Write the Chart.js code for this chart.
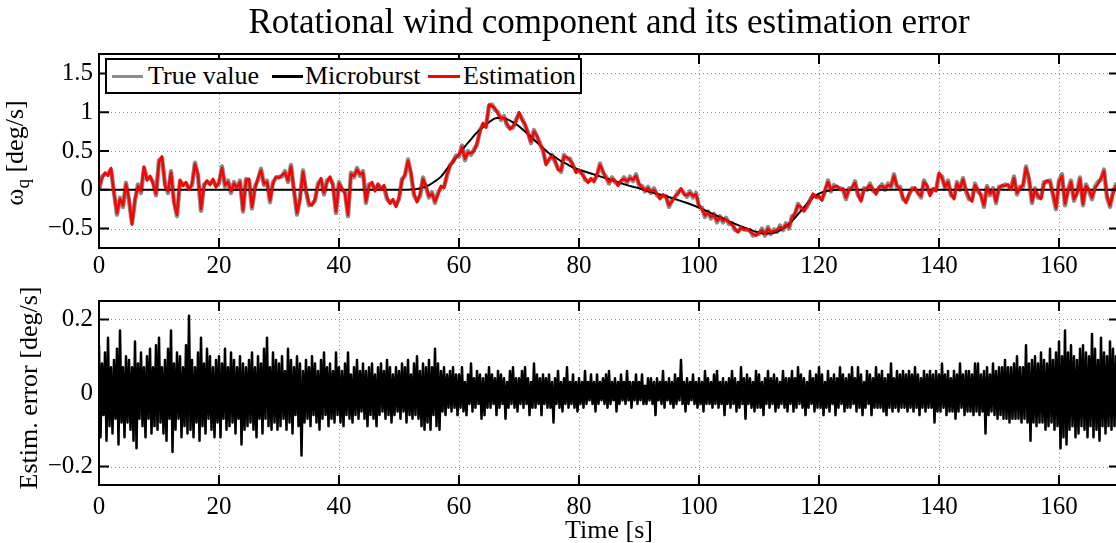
<!DOCTYPE html>
<html>
<head>
<meta charset="utf-8">
<script src="https://cdn.jsdelivr.net/npm/chart.js@4.4.1/dist/chart.umd.min.js"></script>
<style>
  html, body { margin: 0; padding: 0; background: #fff; }
  body { width: 1116px; height: 543px; overflow: hidden; position: relative;
         font-family: 'Liberation Serif', 'Times New Roman', serif; color: #000; }
  .panel { position: absolute; left: 0; }
  .ytitle { position: absolute; font-size: 26px; line-height: 1; white-space: nowrap;
            transform: translate(-50%, -50%) rotate(-90deg); }
  .ytitle .sub { font-size: 19px; position: relative; top: 6px; }
  .legend { position: absolute; left: 105px; top: 58px; width: 473px; height: 32px;
            border: 2px solid #000; background: #fff; font-size: 26px; line-height: 32px; }
  .legend .swatch { position: absolute; top: 15px; height: 2.5px; }
  .legend .lbl { position: absolute; top: 0; white-space: nowrap; }
</style>
</head>
<body>
<canvas id="topChart" class="panel" style="top:0" width="1218" height="280"></canvas>
<canvas id="errChart" class="panel" style="top:280px" width="1218" height="263"></canvas>

<div class="ytitle" style="left:15px; top:153px;">ω<span class="sub">q</span> [deg/s]</div>
<div class="ytitle" style="left:29px; top:388px;">Estim. error [deg/s]</div>

<div class="legend">
  <div class="swatch" style="left:5px; width:31px; background:#8c8c8c;"></div>
  <div class="lbl" style="left:41px;">True value</div>
  <div class="swatch" style="left:165px; width:31px; background:#000;"></div>
  <div class="lbl" style="left:198px;">Microburst</div>
  <div class="swatch" style="left:321px; width:32px; background:#ff0000;"></div>
  <div class="lbl" style="left:356px;">Estimation</div>
</div>

<script>
// ---- axis ticks ----
const xTickValues = [0, 20, 40, 60, 80, 100, 120, 140, 160];
const xTickLabels = ['0', '20', '40', '60', '80', '100', '120', '140', '160'];
const windTickValues = [-0.5, 0, 0.5, 1, 1.5];
const windTickLabels = ['\u22120.5', '0', '0.5', '1', '1.5'];
const errTickValues = [-0.2, 0, 0.2];
const errTickLabels = ['\u22120.2', '0', '0.2'];

// ---- rotational wind component [deg/s], sampled every 0.5 s from 0 to 170 s ----
const windStep = 0.5;
const estimation = [
  0.02,0.15,0.22,0.18,0.28,-0.05,-0.3,-0.12,-0.2,0.07,
  -0.12,-0.45,-0.12,0.05,-0.02,0.3,0.12,0.18,0.08,-0.05,
  0.36,0.43,0.05,-0.02,0.22,-0.17,-0.32,0.13,0.05,0.1,
  0.0,0.08,0.33,0.2,-0.25,0.05,0.12,0.06,0.14,0.03,
  0.1,0.28,0.06,0.1,-0.02,0.08,0.03,0.1,-0.26,0.12,
  0.14,-0.22,0.02,0.15,0.25,0.08,0.1,-0.14,0.08,0.17,
  0.15,0.19,0.22,0.12,0.3,0.0,-0.3,-0.12,0.23,0.0,
  -0.18,-0.2,-0.12,0.06,0.15,-0.04,0.1,0.17,0.05,-0.28,
  0.08,0.02,-0.05,-0.32,0.2,0.18,0.26,0.2,0.22,-0.15,
  0.05,0.1,-0.02,0.08,0.0,0.06,-0.1,-0.18,-0.12,-0.22,
  -0.1,0.12,0.2,0.37,0.22,-0.05,-0.16,-0.06,0.14,0.05,
  -0.08,-0.05,-0.15,-0.06,0.05,0.02,0.2,0.3,0.38,0.42,
  0.45,0.55,0.4,0.48,0.47,0.5,0.6,0.75,0.86,0.8,
  1.1,1.08,1.05,0.98,0.92,0.93,0.85,0.78,0.82,0.88,
  1.0,0.9,0.85,0.72,0.62,0.75,0.7,0.58,0.52,0.32,
  0.4,0.43,0.38,0.26,0.25,0.43,0.42,0.38,0.33,0.22,
  0.26,0.2,0.15,0.09,0.15,0.1,0.2,0.32,0.24,0.15,
  0.1,0.14,0.12,0.05,0.12,0.14,0.11,0.15,0.13,0.18,
  0.08,0.03,0.0,0.02,-0.02,0.0,-0.05,-0.12,-0.06,-0.1,
  -0.2,-0.15,-0.08,-0.05,0.02,-0.06,-0.07,-0.04,-0.08,-0.06,
  -0.2,-0.25,-0.33,-0.3,-0.35,-0.33,-0.4,-0.36,-0.4,-0.38,
  -0.42,-0.45,-0.5,-0.55,-0.48,-0.52,-0.5,-0.54,-0.57,-0.59,
  -0.55,-0.52,-0.57,-0.5,-0.55,-0.53,-0.52,-0.48,-0.5,-0.45,
  -0.48,-0.36,-0.3,-0.2,-0.22,-0.28,-0.2,-0.15,-0.05,-0.1,
  -0.08,-0.14,0.0,0.1,0.0,0.04,0.05,0.0,0.02,-0.1,
  0.0,0.03,0.09,-0.05,-0.15,0.0,0.02,0.06,0.01,-0.06,
  0.04,0.05,0.02,0.06,0.05,0.18,0.05,0.02,-0.1,-0.17,
  -0.05,0.0,0.03,-0.05,-0.08,0.1,0.06,-0.08,0.02,-0.02,
  0.22,0.15,0.04,0.1,-0.05,-0.12,0.08,0.02,0.13,0.0,
  -0.1,-0.15,0.06,0.0,-0.08,-0.2,0.03,-0.05,0.0,-0.15,
  0.02,0.06,0.05,0.07,0.0,0.15,-0.04,0.02,0.06,0.28,
  0.15,-0.15,0.0,-0.08,-0.12,0.08,0.12,0.1,-0.05,-0.23,
  0.1,0.18,-0.18,-0.02,0.1,-0.12,-0.05,0.14,-0.18,0.05,
  0.0,-0.1,0.02,0.08,0.15,0.24,-0.08,-0.2,-0.05,0.05,
  0.02
];
const trueValue = [
  0.0,0.17,0.2,0.21,0.26,-0.03,-0.32,-0.1,-0.22,0.09,
  -0.14,-0.43,-0.14,0.07,-0.04,0.28,0.14,0.16,0.1,-0.07,
  0.38,0.41,0.07,-0.04,0.24,-0.15,-0.34,0.11,0.07,0.08,
  0.02,0.06,0.35,0.18,-0.27,0.07,0.1,0.08,0.12,0.05,
  0.08,0.3,0.04,0.12,-0.04,0.1,0.01,0.12,-0.28,0.14,
  0.12,-0.24,0.04,0.13,0.27,0.06,0.12,-0.16,0.1,0.15,
  0.17,0.17,0.24,0.1,0.32,-0.02,-0.32,-0.1,0.25,-0.02,
  -0.2,-0.18,-0.14,0.08,0.13,-0.06,0.12,0.15,0.07,-0.3,
  0.1,0.0,-0.03,-0.34,0.22,0.16,0.28,0.18,0.24,-0.17,
  0.07,0.08,0.0,0.06,0.02,0.04,-0.12,-0.16,-0.14,-0.2,
  -0.12,0.14,0.18,0.39,0.2,-0.07,-0.14,-0.08,0.16,0.03,
  -0.1,-0.03,-0.17,-0.04,0.03,0.04,0.18,0.32,0.36,0.44,
  0.43,0.57,0.38,0.5,0.45,0.52,0.58,0.77,0.84,0.82,
  1.08,1.1,1.03,1.0,0.9,0.95,0.83,0.8,0.8,0.9,
  0.98,0.92,0.83,0.74,0.6,0.77,0.68,0.6,0.5,0.34,
  0.38,0.45,0.36,0.28,0.23,0.45,0.4,0.4,0.31,0.24,
  0.24,0.22,0.13,0.11,0.13,0.12,0.18,0.34,0.22,0.17,
  0.08,0.16,0.1,0.07,0.1,0.16,0.09,0.17,0.11,0.2,
  0.06,0.05,-0.02,0.04,-0.04,0.02,-0.07,-0.1,-0.08,-0.08,
  -0.22,-0.13,-0.1,-0.03,0.0,-0.04,-0.09,-0.02,-0.1,-0.04,
  -0.22,-0.23,-0.35,-0.28,-0.37,-0.31,-0.42,-0.34,-0.42,-0.36,
  -0.44,-0.43,-0.52,-0.53,-0.5,-0.5,-0.52,-0.52,-0.59,-0.57,
  -0.57,-0.5,-0.59,-0.48,-0.57,-0.51,-0.54,-0.46,-0.52,-0.43,
  -0.5,-0.34,-0.32,-0.18,-0.24,-0.26,-0.22,-0.13,-0.07,-0.08,
  -0.1,-0.12,-0.02,0.12,-0.02,0.06,0.03,0.02,0.0,-0.12,
  0.02,0.01,0.11,-0.07,-0.13,0.02,0.0,0.08,-0.01,-0.04,
  0.02,0.07,0.0,0.08,0.03,0.2,0.03,0.04,-0.12,-0.15,
  -0.07,0.02,0.01,-0.03,-0.1,0.12,0.04,-0.06,0.0,0.0,
  0.2,0.17,0.02,0.12,-0.07,-0.1,0.1,0.0,0.15,-0.02,
  -0.12,-0.13,0.08,-0.02,-0.06,-0.22,0.05,-0.07,0.02,-0.17,
  0.04,0.04,0.07,0.05,0.02,0.17,-0.06,0.04,0.04,0.3,
  0.13,-0.17,0.02,-0.1,-0.1,0.1,0.1,0.12,-0.07,-0.25,
  0.12,0.2,-0.2,0.0,0.12,-0.14,-0.03,0.16,-0.2,0.07,
  -0.02,-0.12,0.04,0.1,0.13,0.26,-0.1,-0.22,-0.03,0.07,
  0.04
];

// ---- microburst component (smooth), time [s] and value [deg/s] ----
const burstTime = [
  0,50,52,53,54,55,56,57,58,59,
  60,61,62,63,64,65,66,67,68,69,
  70,71,72,73,74,75,76,77,78,79,
  80,82,84,86,88,90,92,94,96,98,
  100,102,104,106,108,110,111,112,113,114,
  115,116,117,118,119,120,121,122,124,170
];
const burstValue = [
  0,0,0.005,0.01,0.03,0.06,0.11,0.17,0.27,0.36,
  0.46,0.56,0.65,0.74,0.81,0.87,0.92,0.93,0.91,0.87,
  0.82,0.75,0.68,0.61,0.54,0.47,0.42,0.37,0.33,0.29,
  0.26,0.21,0.16,0.11,0.06,0.02,-0.03,-0.07,-0.12,-0.17,
  -0.23,-0.3,-0.37,-0.44,-0.5,-0.55,-0.565,-0.56,-0.54,-0.5,
  -0.44,-0.36,-0.27,-0.18,-0.1,-0.05,-0.02,-0.005,0,0
];

// ---- estimation error [deg/s], sampled every 0.25 s from 0 to 170 s ----
const errorStep = 0.25;
const estimError = [
  0.13,-0.12,0.08,-0.06,0.11,-0.13,0.15,-0.09,0.07,-0.11,0.09,-0.07,0.12,-0.14,0.17,-0.08,0.07,-0.12,0.1,-0.08,
  0.09,-0.1,0.07,-0.13,0.14,-0.15,0.08,-0.07,0.11,-0.09,0.07,-0.12,0.1,-0.07,0.12,-0.11,0.07,-0.09,0.13,-0.1,
  0.15,-0.08,0.07,-0.11,0.09,-0.13,0.12,-0.07,0.17,-0.16,0.08,-0.1,0.11,-0.07,0.1,-0.12,0.07,-0.09,0.13,-0.11,
  0.21,-0.1,0.09,-0.12,0.07,-0.08,0.11,-0.13,0.15,-0.09,0.08,-0.11,0.12,-0.07,0.1,-0.1,0.07,-0.12,0.09,-0.08,
  0.1,-0.12,0.08,-0.07,0.12,-0.1,0.07,-0.09,0.11,-0.08,0.09,-0.11,0.07,-0.07,0.1,-0.14,0.08,-0.1,0.07,-0.09,
  0.09,-0.08,0.11,-0.1,0.07,-0.12,0.1,-0.07,0.08,-0.11,0.12,-0.07,0.15,-0.09,0.07,-0.1,0.11,-0.08,0.09,-0.1,
  0.08,-0.09,0.1,-0.07,0.06,-0.1,0.12,-0.08,0.09,-0.11,0.07,-0.06,0.1,-0.09,0.08,-0.17,0.06,-0.08,0.09,-0.07,
  0.07,-0.09,0.1,-0.06,0.08,-0.08,0.06,-0.1,0.09,-0.07,0.11,-0.06,0.07,-0.09,0.08,-0.07,0.06,-0.08,0.11,-0.06,
  0.07,-0.08,0.06,-0.09,0.08,-0.06,0.11,-0.07,0.05,-0.08,0.07,-0.06,0.09,-0.07,0.06,-0.05,0.08,-0.07,0.06,-0.09,
  0.07,-0.06,0.08,-0.07,0.05,-0.09,0.07,-0.06,0.08,-0.05,0.06,-0.07,0.09,-0.06,0.07,-0.08,0.05,-0.06,0.07,-0.05,
  0.06,-0.07,0.08,-0.05,0.07,-0.08,0.09,-0.06,0.05,-0.07,0.08,-0.06,0.1,-0.07,0.06,-0.09,0.08,-0.1,0.07,-0.08,
  0.09,-0.1,0.07,-0.06,0.12,-0.09,0.08,-0.1,0.06,-0.05,0.07,-0.06,0.05,-0.04,0.06,-0.05,0.07,-0.04,0.05,-0.06,
  0.05,-0.04,0.07,-0.05,0.03,-0.06,0.05,-0.03,0.08,-0.05,0.04,-0.04,0.06,-0.03,0.05,-0.07,0.04,-0.06,0.05,-0.04,
  0.07,-0.04,0.05,-0.03,0.04,-0.06,0.06,-0.04,0.05,-0.03,0.04,-0.07,0.03,-0.04,0.06,-0.03,0.07,-0.04,0.04,-0.05,
  0.04,-0.03,0.06,-0.04,0.07,-0.03,0.04,-0.06,0.03,-0.04,0.08,-0.04,0.05,-0.03,0.04,-0.06,0.05,-0.03,0.04,-0.04,
  0.05,-0.04,0.03,-0.08,0.04,-0.03,0.06,-0.04,0.03,-0.05,0.04,-0.03,0.07,-0.04,0.03,-0.03,0.05,-0.04,0.03,-0.05,
  0.04,-0.03,0.03,-0.04,0.06,-0.03,0.03,-0.02,0.05,-0.03,0.03,-0.05,0.05,-0.03,0.03,-0.02,0.04,-0.03,0.05,-0.04,
  0.06,-0.03,0.03,-0.02,0.04,-0.05,0.03,-0.03,0.05,-0.02,0.03,-0.03,0.06,-0.02,0.03,-0.04,0.03,-0.02,0.05,-0.03,
  0.03,-0.02,0.05,-0.03,0.02,-0.03,0.04,-0.02,0.04,-0.03,0.03,-0.06,0.04,-0.02,0.03,-0.03,0.06,-0.04,0.03,-0.02,
  0.04,-0.03,0.03,-0.04,0.05,-0.03,0.04,-0.02,0.09,-0.03,0.03,-0.05,0.04,-0.03,0.03,-0.02,0.05,-0.03,0.03,-0.04,
  0.04,-0.03,0.03,-0.05,0.06,-0.03,0.04,-0.03,0.03,-0.04,0.05,-0.03,0.06,-0.04,0.03,-0.03,0.04,-0.06,0.03,-0.03,
  0.04,-0.04,0.06,-0.03,0.04,-0.05,0.03,-0.04,0.07,-0.03,0.04,-0.07,0.05,-0.03,0.04,-0.04,0.03,-0.05,0.06,-0.04,
  0.05,-0.04,0.03,-0.06,0.04,-0.03,0.06,-0.04,0.04,-0.03,0.05,-0.05,0.04,-0.04,0.03,-0.03,0.06,-0.04,0.04,-0.05,
  0.04,-0.03,0.06,-0.05,0.04,-0.04,0.07,-0.03,0.05,-0.04,0.04,-0.06,0.03,-0.04,0.06,-0.03,0.04,-0.05,0.05,-0.04,
  0.07,-0.04,0.05,-0.06,0.03,-0.04,0.06,-0.05,0.04,-0.03,0.05,-0.06,0.04,-0.04,0.07,-0.03,0.05,-0.05,0.04,-0.04,
  0.05,-0.04,0.07,-0.03,0.04,-0.05,0.07,-0.04,0.05,-0.06,0.03,-0.04,0.06,-0.03,0.05,-0.06,0.04,-0.04,0.07,-0.04,
  0.05,-0.04,0.06,-0.05,0.04,-0.06,0.05,-0.04,0.08,-0.05,0.04,-0.04,0.06,-0.05,0.05,-0.04,0.06,-0.04,0.05,-0.05,
  0.06,-0.04,0.05,-0.05,0.07,-0.04,0.05,-0.06,0.04,-0.04,0.06,-0.05,0.05,-0.04,0.06,-0.04,0.05,-0.08,0.06,-0.05,
  0.05,-0.05,0.08,-0.04,0.05,-0.06,0.06,-0.05,0.04,-0.05,0.06,-0.07,0.05,-0.05,0.08,-0.04,0.05,-0.06,0.06,-0.05,
  0.06,-0.05,0.05,-0.06,0.08,-0.05,0.08,-0.06,0.05,-0.05,0.06,-0.11,0.07,-0.06,0.05,-0.05,0.08,-0.06,0.06,-0.07,
  0.07,-0.06,0.07,-0.07,0.09,-0.07,0.07,-0.08,0.07,-0.07,0.08,-0.07,0.1,-0.07,0.07,-0.08,0.07,-0.07,0.13,-0.08,
  0.08,-0.13,0.09,-0.08,0.1,-0.09,0.08,-0.08,0.11,-0.08,0.09,-0.1,0.08,-0.09,0.12,-0.08,0.09,-0.1,0.11,-0.09,
  0.14,-0.15,0.1,-0.12,0.17,-0.14,0.11,-0.1,0.13,-0.09,0.1,-0.12,0.09,-0.11,0.12,-0.09,0.13,-0.1,0.11,-0.12,
  0.1,-0.09,0.16,-0.12,0.12,-0.1,0.09,-0.13,0.15,-0.09,0.11,-0.11,0.1,-0.09,0.14,-0.1,0.12,-0.09,0.1,-0.11,
  0.08
];

// ---- helpers ----
const SERIF = 'Liberation Serif';
Chart.defaults.font.family = SERIF;
Chart.defaults.color = '#000';

const sampled = (vals, step) => vals.map((v, i) => ({ x: i * step, y: v }));
const paired = (xs, ys) => xs.map((t, i) => ({ x: t, y: ys[i] }));
const fixedTicks = (values) => (scale) => { scale.ticks = values.map(v => ({ value: v })); };
const labelFrom = (values, labels) => (v) => {
  const i = values.findIndex(t => Math.abs(t - v) < 1e-9);
  return i >= 0 ? labels[i] : '';
};

// dotted grid, boxed frame and inward tick marks on all four sides
const boxFrame = {
  id: 'boxFrame',
  beforeDatasetsDraw(chart) {
    const { ctx, chartArea: a } = chart;
    const x = chart.scales.x, y = chart.scales.y;
    ctx.save();
    ctx.strokeStyle = '#8a8a8a';
    ctx.lineWidth = 1;
    ctx.setLineDash([1, 3]);
    ctx.beginPath();
    x.ticks.forEach(t => {
      const px = Math.round(x.getPixelForValue(t.value)) + 0.5;
      ctx.moveTo(px, a.top); ctx.lineTo(px, a.bottom);
    });
    y.ticks.forEach(t => {
      const py = Math.round(y.getPixelForValue(t.value)) + 0.5;
      ctx.moveTo(a.left, py); ctx.lineTo(a.right, py);
    });
    ctx.stroke();
    ctx.restore();
  },
  afterDatasetsDraw(chart) {
    const { ctx, chartArea: a } = chart;
    const x = chart.scales.x, y = chart.scales.y;
    const len = 10;
    ctx.save();
    ctx.strokeStyle = '#000';
    ctx.lineWidth = 2;
    ctx.setLineDash([]);
    ctx.beginPath();
    x.ticks.forEach(t => {
      const px = x.getPixelForValue(t.value);
      ctx.moveTo(px, a.bottom); ctx.lineTo(px, a.bottom - len);
      ctx.moveTo(px, a.top); ctx.lineTo(px, a.top + len);
    });
    y.ticks.forEach(t => {
      const py = y.getPixelForValue(t.value);
      ctx.moveTo(a.left, py); ctx.lineTo(a.left + len, py);
      ctx.moveTo(a.right, py); ctx.lineTo(a.right - len, py);
    });
    ctx.stroke();
    ctx.strokeRect(a.left, a.top, a.right - a.left, a.bottom - a.top);
    ctx.restore();
  }
};

const tickFont = () => ({ family: SERIF, size: 25, style: 'normal', weight: 'normal' });
const baseOptions = () => ({
  responsive: false,
  animation: false,
  events: [],
  font: { family: SERIF },
  elements: { point: { radius: 0 }, line: { tension: 0, borderJoinStyle: 'round' } },
  plugins: { legend: { display: false }, tooltip: { enabled: false } }
});

const xAxis = (height, padding, extra) => Object.assign({
  type: 'linear', min: 0, max: 170,
  afterBuildTicks: fixedTicks(xTickValues),
  afterFit: (s) => { s.height = height; },
  grid: { display: false, drawTicks: false },
  border: { display: false },
  ticks: { font: tickFont(), padding: padding, maxRotation: 0, autoSkip: false,
           callback: labelFrom(xTickValues, xTickLabels) }
}, extra || {});

const yAxis = (min, max, values, labels) => ({
  type: 'linear', min, max,
  afterBuildTicks: fixedTicks(values),
  afterFit: (s) => { s.width = 99; },
  grid: { display: false, drawTicks: false },
  border: { display: false },
  ticks: { font: tickFont(), padding: 6, autoSkip: false, callback: labelFrom(values, labels) }
});

// spacer on the right keeps the plot 99..1119 px and the title centred over it
const rightSpacer = () => ({
  type: 'linear', position: 'right', display: true,
  afterFit: (s) => { s.width = 99; },
  grid: { display: false, drawTicks: false },
  border: { display: false },
  ticks: { display: false }
});

// ---- upper plot: wind component ----
const topOpts = baseOptions();
topOpts.plugins.title = {
  display: true,
  text: 'Rotational wind component and its estimation error',
  font: { family: SERIF, size: 35, weight: 'normal' },
  color: '#000',
  padding: { top: 3, bottom: 9 }
};
topOpts.scales = {
  x: xAxis(32, 3),
  y: yAxis(-0.75, 1.75, windTickValues, windTickLabels),
  spacer: rightSpacer()
};
new Chart(document.getElementById('topChart'), {
  type: 'line',
  data: {
    datasets: [
      { label: 'Estimation', data: sampled(estimation, windStep), borderColor: '#ff0000', borderWidth: 2.6 },
      { label: 'Microburst', data: paired(burstTime, burstValue), borderColor: '#000000', borderWidth: 2,
        cubicInterpolationMode: 'monotone' },
      { label: 'True value', data: sampled(trueValue, windStep), borderColor: '#8c8c8c', borderWidth: 4.4 }
    ]
  },
  options: topOpts,
  plugins: [boxFrame]
});

// ---- lower plot: estimation error ----
const errOpts = baseOptions();
errOpts.layout = { padding: { top: 10 } };
errOpts.scales = {
  x: xAxis(58, 7, { title: { display: true, text: 'Time [s]',
                             font: { family: SERIF, size: 26, weight: 'normal', lineHeight: 0.9 },
                             color: '#000', padding: { top: 0, bottom: 0 } } }),
  y: yAxis(-0.25, 0.25, errTickValues, errTickLabels),
  spacer: rightSpacer()
};
new Chart(document.getElementById('errChart'), {
  type: 'line',
  data: {
    datasets: [
      { label: 'Estim. error', data: sampled(estimError, errorStep), borderColor: '#000000', borderWidth: 2.5 }
    ]
  },
  options: errOpts,
  plugins: [boxFrame]
});
</script>
</body>
</html>
